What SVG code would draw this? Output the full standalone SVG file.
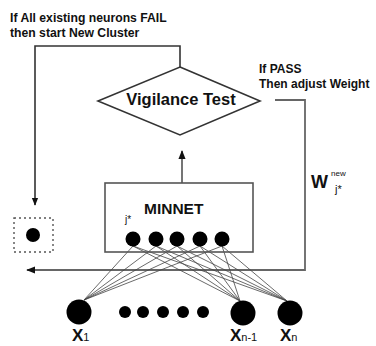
<svg xmlns="http://www.w3.org/2000/svg" width="376" height="346" viewBox="0 0 376 346">
<style>
text{font-family:"Liberation Sans",Arial,sans-serif;fill:#111}
.b{font-weight:bold}
.ln{stroke:#333;stroke-width:1.6;fill:none}
.gl{stroke:#666;stroke-width:1.8;fill:none}
.w{stroke:#444;stroke-width:0.8}
.dot{fill:#000}
</style>
<defs>
<marker id="ah" viewBox="0 0 10 10" refX="9" refY="5" markerWidth="5" markerHeight="5" orient="auto" markerUnits="strokeWidth">
<path d="M0,1 L10,5 L0,9 Z" fill="#111"/>
</marker>
</defs>
<rect width="376" height="346" fill="#fff"/>
<g id="connectors">
<polyline class="ln" points="180,67 180,46 35,46 35,205" marker-end="url(#ah)"/>
<polyline class="gl" points="275,100 305,100 305,270 27,270" marker-end="url(#ah)"/>
<line class="gl" x1="182" y1="183" x2="182" y2="151" marker-end="url(#ah)"/>
<g class="w">
<line x1="84" y1="300" x2="133" y2="246"/><line x1="84" y1="300" x2="156" y2="246"/><line x1="84" y1="300" x2="177" y2="246"/><line x1="84" y1="300" x2="200" y2="246"/><line x1="84" y1="300" x2="222" y2="246"/>
<line x1="240" y1="301" x2="133" y2="246"/><line x1="240" y1="301" x2="156" y2="246"/><line x1="240" y1="301" x2="177" y2="246"/><line x1="240" y1="301" x2="200" y2="246"/><line x1="240" y1="301" x2="222" y2="246"/>
<line x1="287" y1="301" x2="133" y2="246"/><line x1="287" y1="301" x2="156" y2="246"/><line x1="287" y1="301" x2="177" y2="246"/><line x1="287" y1="301" x2="200" y2="246"/><line x1="287" y1="301" x2="222" y2="246"/>
</g>
</g>
<g id="labels">
<text class="b" x="10" y="22" font-size="12.2">If All existing neurons FAIL</text>
<text class="b" x="10" y="37" font-size="12.2">then start New Cluster</text>
<text class="b" x="259" y="73" font-size="12">If PASS</text>
<text class="b" x="259" y="88" font-size="12">Then adjust Weight</text>
<text class="b" x="311" y="188" font-size="18">W</text>
<text x="331" y="176" font-size="8">new</text>
<text x="335" y="193" font-size="11">j*</text>
</g>
<g id="vigilance">
<polygon points="180,67 260,101 180,135 98,101" fill="#fff" stroke="#333" stroke-width="1.6"/>
<text class="b" x="181" y="105" font-size="16.5" text-anchor="middle">Vigilance Test</text>
</g>
<g id="minnet">
<rect x="105" y="183" width="148" height="69" fill="none" stroke="#555" stroke-width="1.6"/>
<text class="b" x="144" y="214" font-size="15.5">MINNET</text>
<text x="125" y="223" font-size="10">j*</text>
<circle class="dot" cx="133" cy="239" r="7.5"/>
<circle class="dot" cx="156" cy="239" r="7.5"/>
<circle class="dot" cx="177" cy="239" r="7.5"/>
<circle class="dot" cx="200" cy="239" r="7.5"/>
<circle class="dot" cx="222" cy="239" r="7.5"/>
</g>
<g id="newcluster">
<rect x="14" y="218" width="39" height="34" fill="none" stroke="#555" stroke-width="1.4" stroke-dasharray="2,3"/>
<circle class="dot" cx="33" cy="235" r="7"/>
</g>
<g id="x1">
<circle class="dot" cx="79" cy="312" r="12.5"/>
<text class="b" x="72" y="341" font-size="17">X<tspan font-size="11" font-weight="normal">1</tspan></text>
</g>
<g id="mid">
<circle class="dot" cx="125" cy="312" r="6"/>
<circle class="dot" cx="143" cy="312" r="6"/>
<circle class="dot" cx="163" cy="312" r="6"/>
<circle class="dot" cx="183" cy="312" r="6"/>
<circle class="dot" cx="203" cy="312" r="6"/>
</g>
<g id="xn1">
<circle class="dot" cx="243" cy="313" r="12.5"/>
<text class="b" x="230" y="341" font-size="17">X<tspan font-size="11" font-weight="normal">n-1</tspan></text>
</g>
<g id="xn">
<circle class="dot" cx="290" cy="313" r="12.5"/>
<text class="b" x="280" y="341" font-size="17">X<tspan font-size="11" font-weight="normal">n</tspan></text>
</g>
</svg>
